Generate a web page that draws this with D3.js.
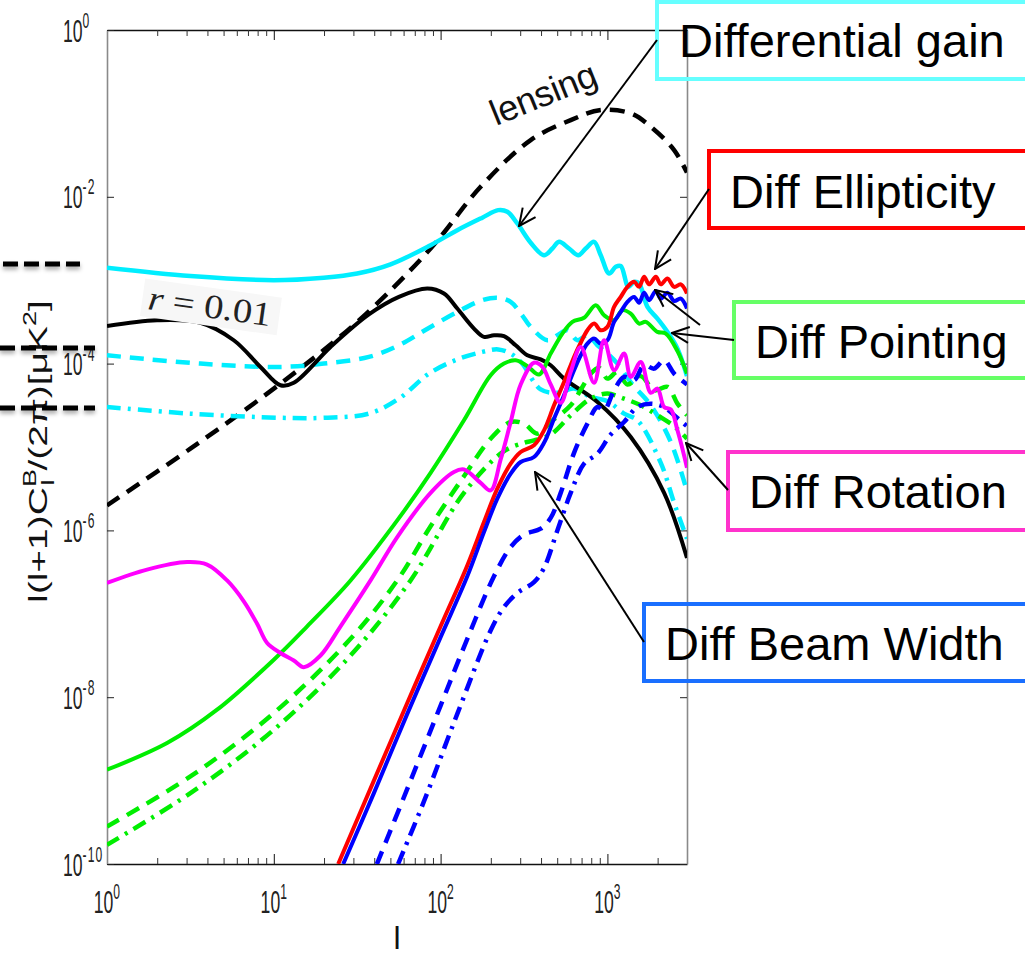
<!DOCTYPE html>
<html>
<head>
<meta charset="utf-8">
<title>BB systematics</title>
<script src="https://cdn.jsdelivr.net/npm/d3@7"></script>
<style>
  body { margin: 0; background: #fff; }
  svg { display: block; font-family: "Liberation Sans", Arial, sans-serif; }
</style>
</head>
<body>
<svg width="1025" height="955" id="mainsvg"></svg>
<script>
// every point is [log10 l, log10 l(l+1)C_l/2pi]
const lensing = [[0,-5.70],[0.5,-5.02],[1.0,-4.30],[1.5,-3.50],[1.94,-2.62],[2.24,-1.88],[2.54,-1.32],[2.78,-1.08],[2.96,-0.96],[3.14,-1.00],[3.26,-1.16],[3.40,-1.44],[3.477,-1.71]];
const primordial = [[0,-3.55],[0.3,-3.48],[0.56,-3.51],[0.76,-3.72],[0.92,-4.04],[1.04,-4.26],[1.12,-4.23],[1.34,-3.80],[1.57,-3.41],[1.75,-3.20],[1.92,-3.10],[2.02,-3.16],[2.10,-3.34],[2.20,-3.58],[2.26,-3.68],[2.32,-3.66],[2.38,-3.67],[2.45,-3.78],[2.52,-3.90],[2.60,-3.95],[2.66,-4.02],[2.74,-4.18],[2.94,-4.46],[3.14,-4.88],[3.34,-5.55],[3.477,-6.33]];

const gainSolid = [[0,-2.85],[0.5,-2.95],[1.0,-3.0],[1.3,-2.97],[1.5,-2.92],[1.7,-2.81],[1.94,-2.58],[2.1,-2.40],[2.25,-2.25],[2.345,-2.16],[2.40,-2.18],[2.46,-2.32],[2.54,-2.55],[2.62,-2.70],[2.67,-2.62],[2.71,-2.54],[2.77,-2.62],[2.826,-2.70],[2.87,-2.62],[2.92,-2.54],[2.96,-2.70],[3.01,-2.92],[3.05,-2.84],[3.08,-2.83],[3.126,-3.08],[3.16,-3.02],[3.19,-3.04],[3.24,-3.32],[3.30,-3.46],[3.36,-3.62],[3.42,-3.82],[3.477,-4.15]];
const gainDash = [[0,-3.90],[0.56,-4.0],[1.04,-4.04],[1.3,-4.0],[1.57,-3.92],[1.75,-3.78],[1.906,-3.60],[2.1,-3.38],[2.25,-3.24],[2.345,-3.21],[2.42,-3.26],[2.485,-3.41],[2.54,-3.56],[2.64,-3.72],[2.70,-3.66],[2.76,-3.60],[2.82,-3.72],[2.88,-3.66],[2.94,-3.78],[3.0,-3.88],[3.06,-4.0],[3.15,-4.25],[3.26,-4.5],[3.38,-4.94],[3.477,-5.53]];
const gainDashDot = [[0,-4.52],[0.5,-4.6],[1.04,-4.65],[1.3,-4.65],[1.57,-4.60],[1.75,-4.42],[1.93,-4.12],[2.1,-3.95],[2.25,-3.86],[2.345,-3.83],[2.42,-3.88],[2.485,-3.99],[2.6,-4.31],[2.7,-4.35],[2.8,-4.30],[2.9,-4.4],[3.0,-4.45],[3.1,-4.6],[3.18,-4.68],[3.32,-5.19],[3.40,-5.67],[3.477,-6.1]];

const pointSolid = [[0,-8.87],[0.36,-8.55],[0.66,-8.15],[1.0,-7.55],[1.2,-7.15],[1.46,-6.6],[1.74,-5.88],[1.94,-5.31],[2.14,-4.68],[2.30,-4.14],[2.38,-4.0],[2.45,-3.96],[2.52,-4.03],[2.59,-4.13],[2.66,-3.88],[2.73,-3.64],[2.79,-3.50],[2.86,-3.45],[2.93,-3.30],[2.98,-3.42],[3.04,-3.48],[3.09,-3.36],[3.14,-3.40],[3.19,-3.52],[3.23,-3.50],[3.3,-3.62],[3.35,-3.64],[3.42,-3.85],[3.477,-4.12]];
const pointDash = [[0,-9.55],[0.5,-8.95],[1.0,-8.19],[1.46,-7.3],[1.74,-6.6],[1.94,-5.95],[2.14,-5.35],[2.3,-4.9],[2.42,-4.70],[2.5,-4.72],[2.58,-4.84],[2.66,-4.70],[2.78,-4.50],[2.85,-4.28],[2.9,-4.12],[2.95,-4.05],[3.0,-4.18],[3.06,-4.10],[3.12,-4.25],[3.2,-4.15],[3.28,-4.32],[3.36,-4.28],[3.42,-4.48],[3.477,-4.62]];
const pointDashDot = [[0,-9.77],[0.5,-9.15],[1.0,-8.39],[1.46,-7.5],[1.82,-6.6],[2.14,-5.55],[2.38,-5.05],[2.5,-4.95],[2.56,-4.92],[2.66,-4.85],[2.78,-4.62],[2.9,-4.42],[3.0,-4.36],[3.1,-4.42],[3.2,-4.5],[3.3,-4.62],[3.4,-4.75],[3.477,-4.9]];

const ellipticity = [[1.386,-10],[1.6,-9.0],[1.8,-8.07],[2.0,-7.15],[2.16,-6.42],[2.26,-5.9],[2.34,-5.5],[2.42,-5.2],[2.48,-5.06],[2.56,-4.98],[2.62,-4.80],[2.68,-4.50],[2.74,-4.22],[2.80,-3.92],[2.84,-3.75],[2.88,-3.60],[2.92,-3.52],[2.96,-3.60],[3.0,-3.56],[3.04,-3.32],[3.08,-3.20],[3.12,-3.08],[3.16,-3.02],[3.19,-3.08],[3.22,-2.96],[3.25,-3.05],[3.29,-2.96],[3.32,-3.05],[3.36,-2.98],[3.40,-3.08],[3.44,-3.05],[3.477,-3.16]];

const beamSolid = [[1.416,-10],[1.6,-9.15],[1.8,-8.2],[2.0,-7.28],[2.16,-6.55],[2.26,-6.02],[2.34,-5.62],[2.42,-5.32],[2.48,-5.18],[2.56,-5.12],[2.62,-4.95],[2.68,-4.66],[2.74,-4.38],[2.80,-4.08],[2.84,-3.90],[2.88,-3.76],[2.92,-3.70],[2.96,-3.76],[3.0,-3.72],[3.04,-3.50],[3.08,-3.38],[3.12,-3.26],[3.16,-3.20],[3.19,-3.27],[3.22,-3.15],[3.25,-3.24],[3.29,-3.13],[3.32,-3.22],[3.36,-3.15],[3.40,-3.25],[3.44,-3.22],[3.477,-3.34]];
const beamDash = [[1.618,-10],[1.8,-9.1],[2.0,-8.1],[2.16,-7.3],[2.32,-6.55],[2.42,-6.2],[2.5,-6.05],[2.6,-5.98],[2.66,-5.85],[2.72,-5.55],[2.8,-5.07],[2.88,-4.72],[2.94,-4.52],[2.98,-4.56],[3.04,-4.32],[3.1,-4.16],[3.16,-4.2],[3.22,-4.02],[3.28,-4.06],[3.34,-3.96],[3.4,-4.12],[3.477,-4.25]];
const beamDashDot = [[1.745,-10],[1.9,-9.25],[2.1,-8.2],[2.3,-7.2],[2.38,-6.92],[2.46,-6.75],[2.56,-6.62],[2.62,-6.45],[2.7,-6.0],[2.78,-5.55],[2.86,-5.2],[2.94,-5.08],[3.02,-4.85],[3.1,-4.7],[3.18,-4.52],[3.26,-4.48],[3.34,-4.52],[3.4,-4.62],[3.477,-4.75]];

const rotation = [[0,-6.63],[0.24,-6.47],[0.48,-6.38],[0.6,-6.41],[0.72,-6.6],[0.82,-6.85],[0.9,-7.12],[0.96,-7.35],[1.04,-7.47],[1.12,-7.56],[1.18,-7.64],[1.28,-7.5],[1.40,-7.15],[1.58,-6.6],[1.74,-6.08],[1.94,-5.55],[2.08,-5.3],[2.14,-5.27],[2.24,-5.43],[2.30,-5.52],[2.36,-5.15],[2.42,-4.7],[2.48,-4.25],[2.56,-3.99],[2.61,-4.04],[2.66,-4.25],[2.72,-4.47],[2.78,-4.10],[2.84,-3.80],[2.92,-4.23],[2.98,-3.72],[3.04,-4.08],[3.1,-3.88],[3.14,-4.16],[3.2,-3.98],[3.26,-4.35],[3.3,-4.3],[3.34,-4.52],[3.38,-4.55],[3.42,-4.8],[3.477,-5.25]];

const xMajor = [1, 10, 100, 1000];
const yMajor = [1, 1e-2, 1e-4, 1e-6, 1e-8, 1e-10];
const boxLabels = ['Differential gain', 'Diff Ellipticity', 'Diff Pointing', 'Diff Rotation', 'Diff Beam Width'];

const svg = d3.select('#mainsvg');
const width = +svg.attr('width');
const height = +svg.attr('height');
const margin = {top: 30, right: 338, bottom: 91, left: 107};
const x = d3.scaleLog().domain([1, 3000]).range([margin.left, width - margin.right]);
const y = d3.scaleLog().domain([1e-10, 1]).range([height - margin.bottom, margin.top]);

const defs = svg.append('defs');
defs.append('clipPath').attr('id', 'plotclip').append('rect')
  .attr('x', x(1)).attr('y', y(1)).attr('width', x(3000) - x(1)).attr('height', y(1e-10) - y(1));
defs.append('marker').attr('id', 'arr').attr('viewBox', '0 0 20 20')
  .attr('refX', 19).attr('refY', 10).attr('markerWidth', 20).attr('markerHeight', 20)
  .attr('markerUnits', 'userSpaceOnUse').attr('orient', 'auto')
  .append('path').attr('d', 'M2,2 L19,10 L2,18').attr('fill', 'none').attr('stroke', '#000').attr('stroke-width', 2);
const shadow = defs.append('filter').attr('id', 'shadow').attr('x', '-10%').attr('y', '-100%').attr('width', '120%').attr('height', '400%');
shadow.append('feDropShadow').attr('dx', 0).attr('dy', 3).attr('stdDeviation', 2).attr('flood-color', '#000').attr('flood-opacity', 0.35);

// axes (box with inward ticks)
const xMinor = x.ticks().filter(t => !xMajor.some(m => Math.abs(m - t) < 1e-9));
const yBase = y(1e-10), yTop = y(1), xLeft = x(1), xRight = x(3000);

function supLabels(sel) {
  sel.each(function(d) {
    const t = d3.select(this);
    const e = Math.round(Math.log10(d));
    t.text(null);
    t.append('tspan').text('10');
    t.append('tspan').attr('dy', -14).attr('font-size', 22).attr('letter-spacing', 2).text(e);
  });
}

const gB = svg.append('g').attr('transform', `translate(0,${yBase})`).attr('color', '#111')
  .call(d3.axisBottom(x).tickValues(xMajor).tickSizeInner(-10).tickSizeOuter(0));
svg.append('g').attr('transform', `translate(0,${yBase})`).attr('color', '#333')
  .call(d3.axisBottom(x).tickValues(xMinor).tickSizeInner(-6).tickSizeOuter(0).tickFormat(''))
  .select('.domain').remove();
gB.select('.domain').attr('stroke-width', 1.6);
gB.selectAll('.tick text')
  .attr('y', 49).attr('dy', null).attr('x', 0)
  .attr('font-family', 'Liberation Sans').attr('font-size', 32).attr('fill', '#222')
  .attr('text-anchor', 'middle').attr('transform', 'scale(0.55,1)')
  .call(supLabels);

const gT = svg.append('g').attr('transform', `translate(0,${yTop})`).attr('color', '#111')
  .call(d3.axisTop(x).tickValues(xMajor).tickSizeInner(-10).tickSizeOuter(0).tickFormat(''));
gT.select('.domain').attr('stroke-width', 1.6);
svg.append('g').attr('transform', `translate(0,${yTop})`).attr('color', '#333')
  .call(d3.axisTop(x).tickValues(xMinor).tickSizeInner(-6).tickSizeOuter(0).tickFormat(''))
  .select('.domain').remove();

const gL = svg.append('g').attr('transform', `translate(${xLeft},0)`).attr('color', '#222')
  .call(d3.axisLeft(y).tickValues(yMajor).tickSizeInner(-7).tickSizeOuter(0));
gL.select('.domain').attr('stroke', '#8a8a8a').attr('stroke-width', 1.6);
gL.selectAll('.tick text')
  .attr('x', 0).attr('y', 11).attr('dy', null)
  .attr('font-family', 'Liberation Sans').attr('font-size', 32).attr('fill', '#222')
  .attr('text-anchor', 'start').attr('transform', 'translate(-44,0) scale(0.55,1)')
  .call(supLabels);

const gR = svg.append('g').attr('transform', `translate(${xRight},0)`).attr('color', '#222')
  .call(d3.axisRight(y).tickValues(yMajor).tickSizeInner(-7).tickSizeOuter(0).tickFormat(''));
gR.select('.domain').attr('stroke', '#8a8a8a').attr('stroke-width', 1.6);

// axis titles
svg.append('text').attr('x', (xLeft + xRight) / 2).attr('y', 949)
  .attr('text-anchor', 'middle').attr('font-size', 32).attr('fill', '#111').text('l');

const ylab = svg.append('text')
  .attr('transform', 'translate(47,603) rotate(-90) scale(1.5,1)')
  .attr('font-size', 26).attr('fill', '#111');
ylab.append('tspan').text('l(l+1)C');
ylab.append('tspan').attr('dy', -11).attr('font-size', 18).text('B');
ylab.append('tspan').attr('dx', -11).attr('dy', 18).attr('font-size', 18).text('l');
ylab.append('tspan').attr('dx', 6).attr('dy', -7).text('/(2π)[μK');
ylab.append('tspan').attr('dy', -11).attr('font-size', 18).text('2');
ylab.append('tspan').attr('dy', 11).text(']');

// curves
const series = [
  {data: lensing, color: '#000', dash: '15,9', w: 4.5},
  {data: gainDashDot, color: '#00eeff', dash: '14,7,3,7', w: 4.5},
  {data: gainDash, color: '#00eeff', dash: '14,9', w: 4.5},
  {data: primordial, color: '#000', dash: null, w: 4},
  {data: gainSolid, color: '#00eeff', dash: null, w: 4.5},
  {data: pointDashDot, color: '#00ee00', dash: '14,7,3,7', w: 4.5},
  {data: pointDash, color: '#00ee00', dash: '14,9', w: 4.5},
  {data: pointSolid, color: '#00ee00', dash: null, w: 4},
  {data: beamDashDot, color: '#0000ff', dash: '14,7,3,7', w: 4.5},
  {data: beamDash, color: '#0000ff', dash: '14,9', w: 4.5},
  {data: ellipticity, color: '#ff0000', dash: null, w: 4},
  {data: beamSolid, color: '#0000ff', dash: null, w: 4},
  {data: rotation, color: '#ff00ff', dash: null, w: 4}
];

const line = d3.line()
  .x(d => x(Math.pow(10, d[0])))
  .y(d => y(Math.pow(10, d[1])))
  .curve(d3.curveCatmullRom.alpha(0.5));

svg.append('g').attr('clip-path', 'url(#plotclip)')
  .selectAll('path').data(series).join('path')
  .attr('d', d => line(d.data))
  .attr('fill', 'none')
  .attr('stroke', d => d.color)
  .attr('stroke-width', d => d.w)
  .attr('stroke-dasharray', d => d.dash)
  .attr('stroke-linejoin', 'round');

// in-plot labels
const rg = svg.append('g').attr('transform', 'translate(147,309) rotate(8)');
rg.append('rect').attr('x', -6).attr('y', -30).attr('width', 138).attr('height', 38).attr('fill', '#f7f7f7');
const rt = rg.append('text').attr('font-family', 'Liberation Serif').attr('font-size', 34).attr('fill', '#222')
  .attr('textLength', 124).attr('lengthAdjust', 'spacingAndGlyphs');
rt.append('tspan').attr('font-style', 'italic').text('r');
rt.append('tspan').text(' = 0.01');

svg.append('text').attr('transform', 'translate(496,126) rotate(-22)')
  .attr('font-size', 36).attr('fill', '#111').attr('textLength', 112).text('lensing');

// left-hand dashed stubs
const stubs = [[3, 80, 264], [0, 95, 348], [0, 95, 408]];
svg.append('g').attr('filter', 'url(#shadow)')
  .selectAll('line').data(stubs).join('line')
  .attr('x1', d => d[0]).attr('x2', d => d[1]).attr('y1', d => d[2]).attr('y2', d => d[2])
  .attr('stroke', '#000').attr('stroke-width', 5).attr('stroke-dasharray', '15,6');

// annotation boxes
const boxes = [
  {x: 657, y: 2, h: 77, color: '#66ffff', tx: 679, ty: 57},
  {x: 709, y: 151, h: 77, color: '#ff0000', tx: 730, ty: 208},
  {x: 734, y: 302, h: 76, color: '#66ff66', tx: 755, ty: 358},
  {x: 728, y: 452, h: 78, color: '#ff33cc', tx: 749, ty: 508},
  {x: 644, y: 604, h: 77, color: '#1a6fff', tx: 665, ty: 660}
];
const bg = svg.append('g');
bg.selectAll('rect').data(boxes).join('rect')
  .attr('x', d => d.x).attr('y', d => d.y).attr('width', d => width + 10 - d.x).attr('height', d => d.h)
  .attr('fill', 'none').attr('stroke', d => d.color).attr('stroke-width', 4);
bg.selectAll('text').data(boxes).join('text')
  .attr('x', d => d.tx).attr('y', d => d.ty)
  .attr('font-size', 47).attr('fill', '#000')
  .text((d, i) => boxLabels[i]);

const arrows = [
  [657, 40, 519, 226],
  [709, 189, 655, 269],
  [734, 340, 672, 333],
  [700, 325, 655, 290],
  [728, 490, 686, 443],
  [644, 642, 535, 472]
];
svg.append('g').selectAll('line').data(arrows).join('line')
  .attr('x1', d => d[0]).attr('y1', d => d[1]).attr('x2', d => d[2]).attr('y2', d => d[3])
  .attr('stroke', '#000').attr('stroke-width', 2).attr('marker-end', 'url(#arr)');
</script>
</body>
</html>
